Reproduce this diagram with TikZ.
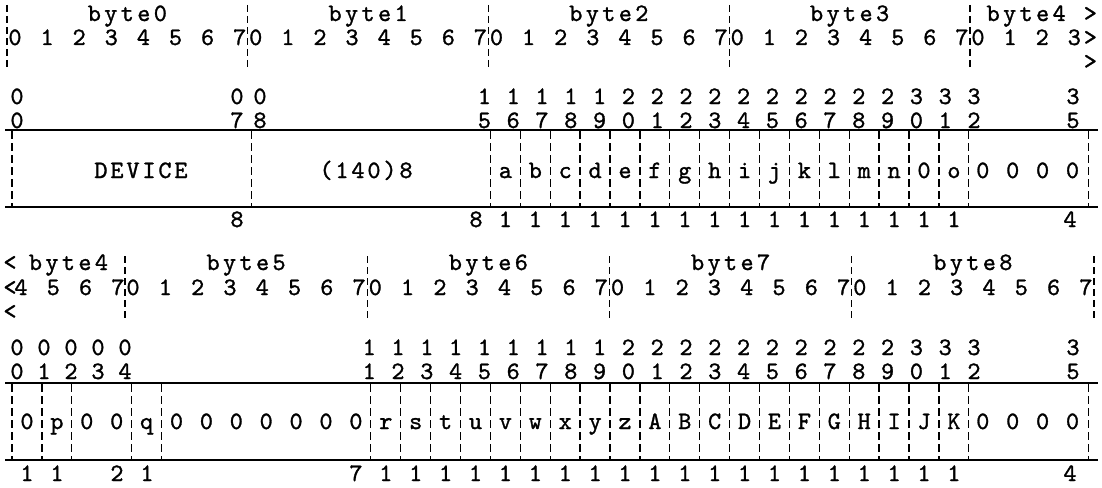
\documentclass[tikz,border=0pt]{standalone}
\usepackage{fontspec}
\newfontfamily\typer{lmmono10-regular}[Extension=.otf, FakeBold=1.2]
\usepackage{tikz}
\usetikzlibrary{positioning}

\begin{document}
\begin{tikzpicture}[
  x=1pt, y=-1pt,
  chr/.style={
    inner sep=0pt,
    anchor=base,
    font=\fontsize{25}{27}\selectfont\typer
  },
  rule/.style={
    line width=2.2pt
  },
  bytesep/.style={
    line width=1.3pt,
    dash pattern=on 7pt off 4pt
  },
  fieldsep/.style={
    line width=1.3pt,
    dash pattern=on 8pt off 4pt
  }
]
\useasboundingbox (0,0) rectangle (1102,487);

% -------------------------------------------------------------------
% word 1 : header
% -------------------------------------------------------------------
\foreach \k in {0,...,3}
  \foreach \ch [count=\i from 0] in {b,y,t,e,\k}
    \node[chr] (lab\k\i) at ({15+16.05*(15*\k+7)+16.5*(\i-2)},21) {\ch};
\foreach \ch [count=\i from 0] in {b,y,t,e,4}
  \node[chr] (lab4\i) at ({15+16.05*63+16.5*(\i-2)},21) {\ch};
\node[chr] (gtA) at ({15+16.05*67},21) {>};

\foreach \k in {0,...,3}
  \foreach \b in {0,...,7}
    \node[chr] (bit\k\b) at ({15+16.05*(15*\k+2*\b)},45) {\b};
\foreach \b in {0,...,3}
  \node[chr] (bit4\b) at ({15+16.05*(60+2*\b)},45) {\b};
\node[chr] (gtB) at ({15+16.05*67},45) {>};
\node[chr, anchor=center] (gtC) at ({15+16.05*67},62) {>};

\foreach \k in {0,...,4}
  \draw[bytesep] ({15+16.05*(15*\k-0.5)},5) -- ++(0,65);

% bit numbers
\foreach \x/\t/\u in {17/0/0, 237/0/7, 260/0/8, 1073/3/5} {
  \node[chr] (ta\t\u) at (\x,104) {\t};
  \node[chr] (ua\t\u) at (\x,128) {\u};
}
\foreach \n in {15,...,32} {
  \pgfmathtruncatemacro\tn{int(\n/10)}
  \pgfmathtruncatemacro\un{mod(\n,10)}
  \node[chr] (ta\n) at ({974-28.8*(32-\n)},104) {\tn};
  \node[chr] (ua\n) at ({974-28.8*(32-\n)},128) {\un};
}

% -------------------------------------------------------------------
% word 1 : fields
% -------------------------------------------------------------------
\draw[rule] (5,130) -- (1098,130);
\draw[rule] (5,207) -- (1098,207);
\foreach \b in {0,8,16,17,...,32,36}
  \draw[fieldsep] ({12+29.9*\b},131) -- ({12+29.9*\b},206);

\foreach \ch [count=\i from 0] in {D,E,V,I,C,E}
  \node[chr] (dev\i) at ({101+16*\i},178) {\ch};
\foreach \ch [count=\i from 0] in {{(},1,4,0,{)},8}
  \node[chr] (cnt\i) at ({326+16*\i},178) {\ch};
\foreach \ch [count=\i from 16] in {a,b,c,d,e,f,g,h,i,j,k,l,m,n,0,o}
  \node[chr] (fa\i) at ({12+29.9*\i+15},178) {\ch};
\foreach \b in {32,...,35}
  \node[chr] (fa\b) at ({12+29.9*\b+14},178) {0};

% widths
\node[chr] (wa0) at (237,227) {8};
\node[chr] (wa8) at (476,227) {8};
\foreach \b in {16,...,31}
  \node[chr] (wa\b) at ({12+29.9*\b+15},227) {1};
\node[chr] (wa32) at (1070,227) {4};

% -------------------------------------------------------------------
% word 2 : header
% -------------------------------------------------------------------
\node[chr] (ltA) at (10,270) {<};
\foreach \ch [count=\i from 0] in {b,y,t,e,4}
  \node[chr] (lbl4\i) at ({20+16.15*3+16.5*(\i-2)},270) {\ch};
\foreach \k in {5,...,8}
  \foreach \ch [count=\i from 0] in {b,y,t,e,\k}
    \node[chr] (lbl\k\i) at ({20+16.15*(15*\k-61)+16.5*(\i-2)},270) {\ch};

\node[chr] (ltB) at (10,295) {<};
\foreach \b in {4,...,7}
  \node[chr] (bt4\b) at ({21+16.15*(2*\b-8)},295) {\b};
\foreach \k in {5,...,8}
  \foreach \b in {0,...,7}
    \node[chr] (bt\k\b) at ({20+16.15*(15*\k-68+2*\b)},295) {\b};
\node[chr, anchor=center] (ltC) at (10,312) {<};

\foreach \k in {0,...,4}
  \draw[bytesep] ({20+16.15*(6.5+15*\k)},256) -- ++(0,65);

% bit numbers
\foreach \n in {0,...,4} {
  \node[chr] (tb\n) at ({17+27*\n},355) {0};
  \node[chr] (ub\n) at ({17+27*\n},379) {\n};
}
\foreach \n in {11,...,32} {
  \pgfmathtruncatemacro\tn{int(\n/10)}
  \pgfmathtruncatemacro\un{mod(\n,10)}
  \node[chr] (tb\n) at ({974-28.8*(32-\n)},355) {\tn};
  \node[chr] (ub\n) at ({974-28.8*(32-\n)},379) {\un};
}
\node[chr] (tb35) at (1073,355) {3};
\node[chr] (ub35) at (1073,379) {5};

% -------------------------------------------------------------------
% word 2 : fields
% -------------------------------------------------------------------
\draw[rule] (5,383) -- (1098,383);
\draw[rule] (5,460) -- (1098,460);
\foreach \b in {0,1,2,4,5,12,13,...,32,36}
  \draw[fieldsep] ({12+29.9*\b},384) -- ({12+29.9*\b},459);

\foreach \ch [count=\i from 0] in {0,p,0,0,q,0,0,0,0,0,0,0}
  \node[chr] (fb\i) at ({12+29.9*\i+15},429) {\ch};
\foreach \ch [count=\i from 12] in {r,s,t,u,v,w,x,y,z,A,B,C,D,E,F,G,H,I,J,K}
  \node[chr] (fb\i) at ({12+29.9*\i+15},429) {\ch};
\foreach \b in {32,...,35}
  \node[chr] (fb\b) at ({12+29.9*\b+14},429) {0};

% widths
\foreach \x/\w in {27/1, 57/1, 117/2, 147/1, 356/7, 1070/4}
  \node[chr] (wb\x) at (\x,481) {\w};
\foreach \b in {12,...,31}
  \node[chr] (wb\b) at ({12+29.9*\b+15},481) {1};

\end{tikzpicture}
\end{document}
